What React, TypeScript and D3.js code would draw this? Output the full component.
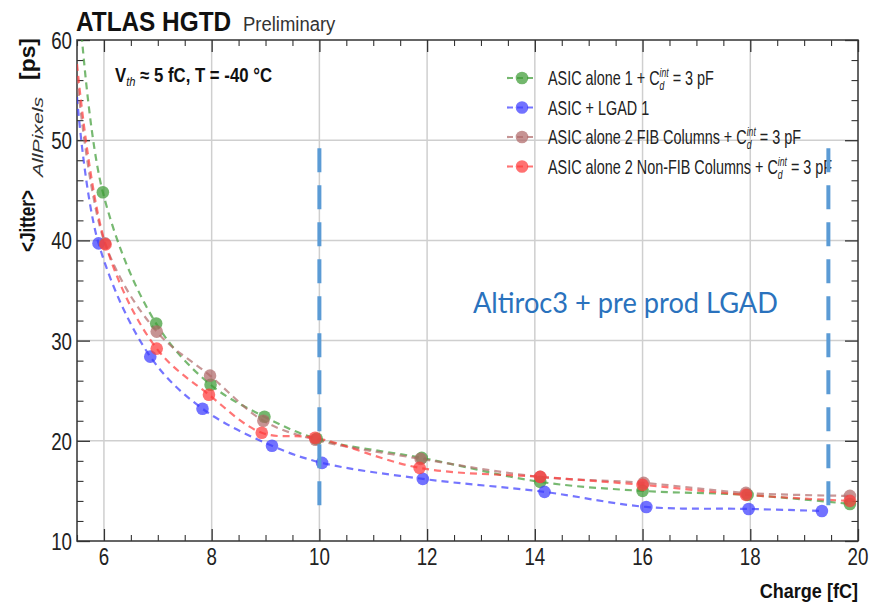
import React, { useEffect, useRef } from "react";
import * as d3 from "d3";

// Jitter [ps] vs charge [fC]. First point of each curve sits on the left frame edge.
const asicAlone1Charge = [5.5, 5.98, 6.97, 7.98, 8.98, 9.95, 11.9, 14.1, 16.0, 17.95, 19.85];
const asicAlone1Jitter = [66.5, 44.8, 31.7, 25.6, 22.4, 20.2, 18.3, 15.9, 15.0, 14.6, 13.7];

const asicLgadCharge = [5.5, 5.9, 6.86, 7.83, 9.12, 10.05, 11.92, 14.18, 16.07, 17.97, 19.33];
const asicLgadJitter = [54.3, 39.7, 28.4, 23.2, 19.5, 17.8, 16.2, 14.9, 13.4, 13.2, 13.0];

const fibCharge = [5.5, 6.02, 6.98, 7.97, 8.96, 9.93, 11.88, 14.1, 16.02, 17.92, 19.85];
const fibJitter = [56.3, 39.7, 30.9, 26.5, 22.0, 20.1, 18.2, 16.4, 15.8, 14.8, 14.5];

const nonFibCharge = [5.5, 6.03, 6.98, 7.95, 8.93, 9.92, 11.86, 14.1, 16.0, 17.92, 19.85];
const nonFibJitter = [57.6, 39.6, 29.2, 24.6, 20.8, 20.3, 17.3, 16.4, 15.6, 14.6, 14.0];

const seriesColors = ["#3d9b35", "#3b3bff", "#b06a6a", "#ff3a3a"];

// legend text: before the C, then " = 3 pF" after C_d^int (null = plain label)
const legendLabels = [
  { pre: "ASIC alone 1 + C", post: " = 3 pF" },
  { pre: "ASIC + LGAD 1", post: null },
  { pre: "ASIC alone 2 FIB Columns + C", post: " = 3 pF" },
  { pre: "ASIC alone 2 Non-FIB Columns + C", post: " = 3 pF" },
];

const xDomain = [5.5, 20];
const yDomain = [10, 60];
const xTicks = [6, 8, 10, 12, 14, 16, 18, 20];
const yTicks = [10, 20, 30, 40, 50, 60];

// the two blue dashed lines drawn on top of the plot
const cutCharges = [10, 19.45];
const cutJitterRange = [12.4, 49.2];

const W = 871;
const H = 607;
const margin = { top: 40, right: 13, bottom: 66, left: 77 };
const FONT = "'Liberation Sans', Arial, Helvetica, sans-serif";

const App = () => {
  const svgRef = useRef<SVGSVGElement>(null);

  useEffect(() => {
    const svg = d3.select(svgRef.current);
    svg.selectAll("*").remove();

    const x = d3.scaleLinear().domain(xDomain).range([margin.left, W - margin.right]);
    const y = d3.scaleLinear().domain(yDomain).range([H - margin.bottom, margin.top]);
    const [x0, x1] = x.range();
    const [y0, y1] = y.range();

    svg.append("rect").attr("width", W).attr("height", H).attr("fill", "#fff");

    svg.append("clipPath").attr("id", "plot-clip")
      .append("rect").attr("x", x0).attr("y", y1).attr("width", x1 - x0).attr("height", y0 - y1);

    // grid
    svg.append("g").selectAll("line").data(xTicks.filter(d => d < 20)).join("line")
      .attr("x1", d => x(d)).attr("x2", d => x(d)).attr("y1", y0).attr("y2", y1)
      .attr("stroke", "#cfcfcf").attr("stroke-width", 1.5);
    svg.append("g").selectAll("line").data(yTicks.filter(d => d > 10 && d < 60)).join("line")
      .attr("y1", d => y(d)).attr("y2", d => y(d)).attr("x1", x0).attr("x2", x1)
      .attr("stroke", "#cfcfcf").attr("stroke-width", 1.5);

    // ticks on all four sides, pointing inwards (ROOT style)
    const xMinor = d3.range(5.5, 20.01, 0.5).filter(d => !xTicks.includes(d));
    const yMinor = d3.range(10, 60.1, 2).filter(d => !yTicks.includes(d));
    const tickAxis = (axis, minor, major, size, tr) => {
      svg.append("g").attr("transform", tr)
        .call(axis.tickValues(major).tickSize(-size).tickSizeOuter(0).tickFormat(""))
        .call(g => g.select(".domain").remove())
        .call(g => g.selectAll("line").attr("stroke", "#333").attr("stroke-width", 1.3));
      svg.append("g").attr("transform", tr)
        .call(axis.tickValues(minor).tickSize(-size / 2).tickSizeOuter(0).tickFormat(""))
        .call(g => g.select(".domain").remove())
        .call(g => g.selectAll("line").attr("stroke", "#333").attr("stroke-width", 1.1));
    };
    tickAxis(d3.axisBottom(x), xMinor, xTicks, 12, `translate(0,${y0})`);
    tickAxis(d3.axisTop(x), xMinor, xTicks, 12, `translate(0,${y1})`);
    tickAxis(d3.axisLeft(y), yMinor, yTicks, 13, `translate(${x0},0)`);
    tickAxis(d3.axisRight(y), yMinor, yTicks, 13, `translate(${x1},0)`);

    // tick labels (narrow font in the original, so squeeze horizontally)
    svg.append("g").selectAll("text").data(xTicks).join("text")
      .attr("transform", d => `translate(${x(d)},${y0 + 24}) scale(0.78,1)`)
      .attr("text-anchor", "middle").attr("font-family", FONT).attr("font-size", 24).attr("fill", "#222")
      .text(d => d);
    svg.append("g").selectAll("text").data(yTicks).join("text")
      .attr("transform", d => `translate(${x0 - 5},${y(d) + 9}) scale(0.78,1)`)
      .attr("text-anchor", "end").attr("font-family", FONT).attr("font-size", 24).attr("fill", "#222")
      .text(d => d);

    // frame
    svg.append("rect").attr("x", x0).attr("y", y1).attr("width", x1 - x0).attr("height", y0 - y1)
      .attr("fill", "none").attr("stroke", "#333").attr("stroke-width", 1.5);

    // curves
    const series = [
      [asicAlone1Charge, asicAlone1Jitter],
      [asicLgadCharge, asicLgadJitter],
      [fibCharge, fibJitter],
      [nonFibCharge, nonFibJitter],
    ].map(([cs, js], i) => ({ color: seriesColors[i], points: cs.map((c, k) => [c, js[k]]) }));

    const line = d3.line().x(d => x(d[0])).y(d => y(d[1])).curve(d3.curveCatmullRom.alpha(0.5));
    const plot = svg.append("g").attr("clip-path", "url(#plot-clip)");
    series.forEach(s => {
      plot.append("path").datum(s.points)
        .attr("fill", "none").attr("stroke", s.color).attr("stroke-width", 2.2)
        .attr("stroke-dasharray", "7,5").attr("opacity", 0.7).attr("d", line);
    });
    series.forEach(s => {
      plot.append("g").selectAll("circle").data(s.points.filter(p => p[0] > xDomain[0])).join("circle")
        .attr("cx", d => x(d[0])).attr("cy", d => y(d[1])).attr("r", 6.3)
        .attr("fill", s.color).attr("opacity", 0.72);
    });

    // title + conditions
    svg.append("text").attr("transform", "translate(76,31) scale(0.87,1)")
      .attr("font-family", FONT).attr("font-size", 28).attr("font-weight", "bold").attr("fill", "#111")
      .text("ATLAS HGTD");
    svg.append("text").attr("transform", "translate(243,31) scale(0.88,1)")
      .attr("font-family", FONT).attr("font-size", 21).attr("fill", "#333")
      .text("Preliminary");

    const cond = svg.append("text").attr("transform", "translate(115,82) scale(0.86,1)")
      .attr("font-family", FONT).attr("font-size", 19.5).attr("font-weight", "bold").attr("fill", "#111");
    cond.append("tspan").text("V");
    cond.append("tspan").attr("font-size", 13).attr("font-style", "italic").attr("font-weight", "normal")
      .attr("dy", 4).text("th");
    cond.append("tspan").attr("dy", -4).text(" \u2248 5 fC, T = -40 \u00B0C");

    // y title
    const yLab = svg.append("g").attr("transform", "translate(35,252) rotate(-90)")
      .attr("font-family", FONT).attr("fill", "#111");
    yLab.append("text").attr("font-size", 22).attr("font-weight", "bold")
      .attr("textLength", 62).attr("lengthAdjust", "spacingAndGlyphs").text("<Jitter>");
    yLab.append("text").attr("x", 75).attr("y", 8).attr("font-size", 15).attr("font-style", "italic").attr("fill", "#333")
      .attr("textLength", 80).attr("lengthAdjust", "spacingAndGlyphs").text("AllPixels");
    yLab.append("text").attr("x", 172).attr("font-size", 22).attr("font-weight", "bold")
      .attr("textLength", 42).attr("lengthAdjust", "spacingAndGlyphs").text("[ps]");

    // x title
    svg.append("text").attr("transform", `translate(${x1},598) scale(0.86,1)`)
      .attr("text-anchor", "end").attr("font-family", FONT).attr("font-size", 21).attr("font-weight", "bold")
      .attr("fill", "#111").text("Charge [fC]");

    // legend
    legendLabels.forEach((lab, i) => {
      const rowY = 78 + i * 29.5;
      const color = seriesColors[i];
      svg.append("line").attr("x1", 507).attr("x2", 537).attr("y1", rowY).attr("y2", rowY)
        .attr("stroke", color).attr("stroke-width", 2.2).attr("stroke-dasharray", "6,4").attr("opacity", 0.7);
      svg.append("circle").attr("cx", 522).attr("cy", rowY).attr("r", 6.3).attr("fill", color).attr("opacity", 0.72);

      const t = svg.append("text").attr("transform", `translate(548,${rowY + 7}) scale(0.72,1)`)
        .attr("font-family", FONT).attr("font-size", 20).attr("fill", "#222");
      t.append("tspan").text(lab.pre);
      if (lab.post) {
        const sup = t.append("tspan").attr("font-size", 12).attr("font-style", "italic").attr("dy", -8).text("int");
        const supW = (sup.node() as SVGTextContentElement).getComputedTextLength();
        const sub = t.append("tspan").attr("font-size", 12).attr("font-style", "italic")
          .attr("dx", -supW).attr("dy", 13).text("d");
        const subW = (sub.node() as SVGTextContentElement).getComputedTextLength();
        t.append("tspan").attr("dx", supW - subW).attr("dy", -5).text(lab.post);
      }
    });

    // annotation
    svg.append("g").selectAll("line").data(cutCharges).join("line")
      .attr("x1", d => x(d)).attr("x2", d => x(d))
      .attr("y1", y(cutJitterRange[1])).attr("y2", y(cutJitterRange[0]))
      .attr("stroke", "#5b9bd5").attr("stroke-width", 4).attr("stroke-dasharray", "24,13");
    svg.append("text").attr("x", 473).attr("y", 313)
      .attr("font-family", "Lato, 'Open Sans', sans-serif").attr("font-size", 29).attr("fill", "#2a72bd")
      .attr("textLength", 305).attr("lengthAdjust", "spacingAndGlyphs")
      .text("Altiroc3 + pre prod  LGAD");
  }, []);

  return (
    <svg ref={svgRef} width={W} height={H} style={{ position: "absolute", left: 0, top: 0 }} />
  );
};

export default App;
